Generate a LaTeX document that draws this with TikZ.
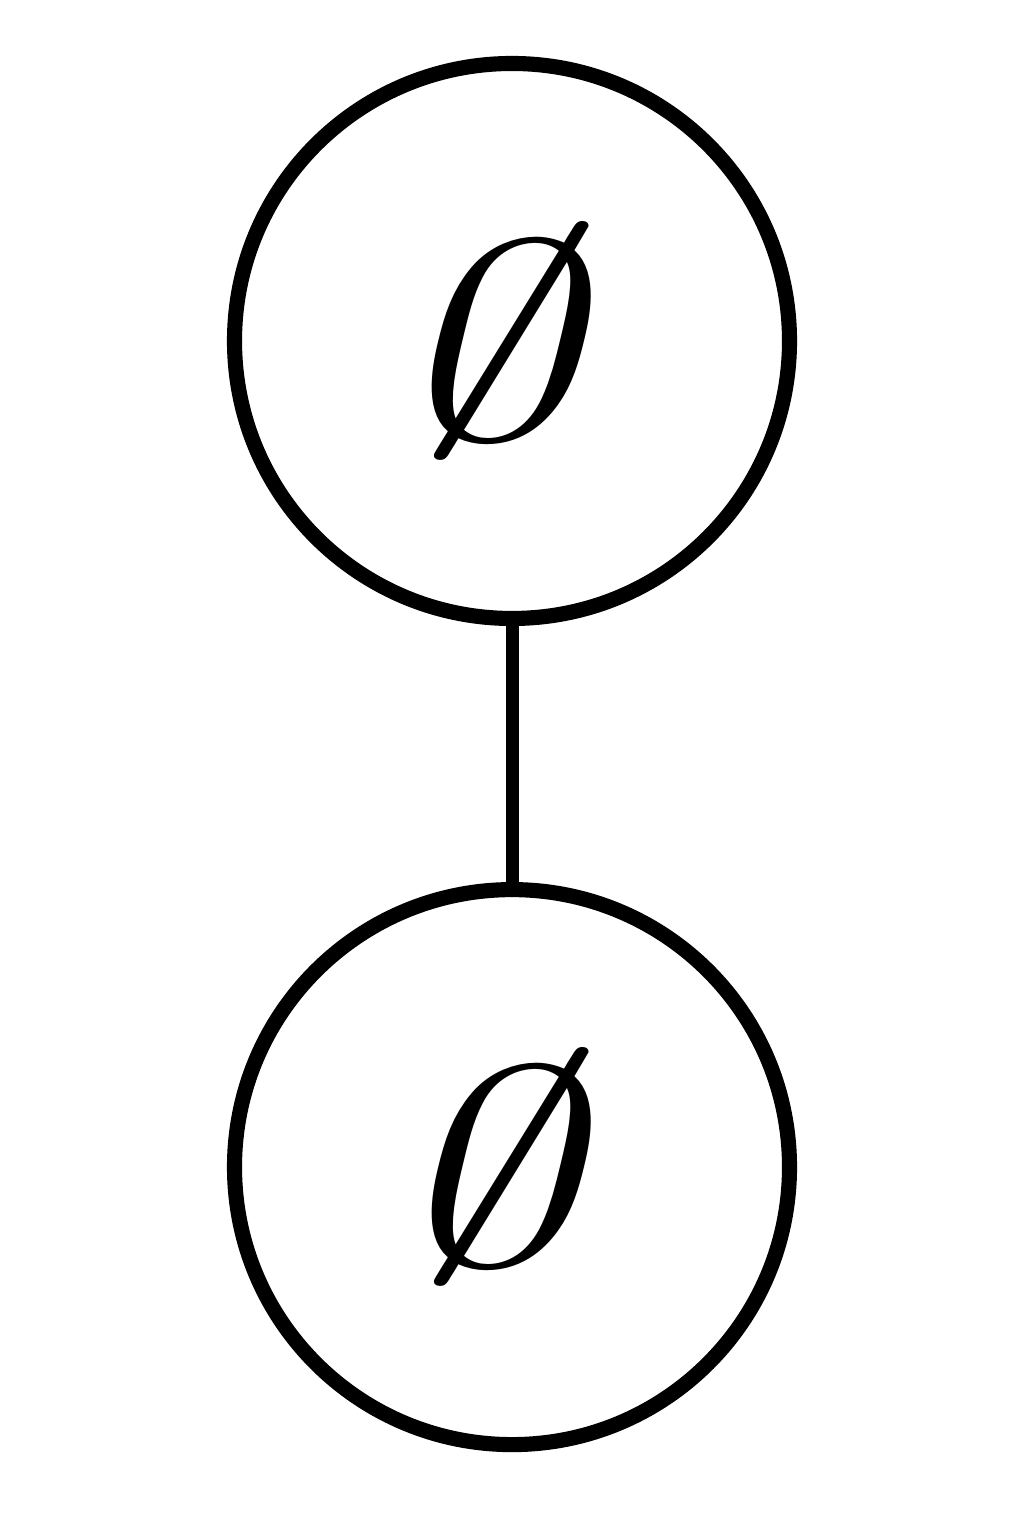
\documentclass[tikz,border=0pt]{standalone}
\usepackage{graphicx}
\usetikzlibrary{positioning}
\newcommand{\nullset}{\scalebox{8}{$\emptyset$}}
\begin{document}
\begin{tikzpicture}[
  state/.style={circle,draw=black,line width=4.3pt,minimum size=5.55cm,inner sep=0pt},
  glyph/.style={inner sep=0pt,xslant=0.24,xscale=1.28,transform shape},
  link/.style={draw=black,line width=3.7pt},
]
\useasboundingbox (0,0) rectangle (10.24,15.36);
\node[state] (top) at (5.12,11.95) {};
\node[state,below=2.56cm of top] (bottom) {};
\node[glyph] (topset) at (top.center) {\nullset};
\node[glyph] (bottomset) at (bottom.center) {\nullset};
\draw[link] (top) -- (bottom);
\end{tikzpicture}
\end{document}
